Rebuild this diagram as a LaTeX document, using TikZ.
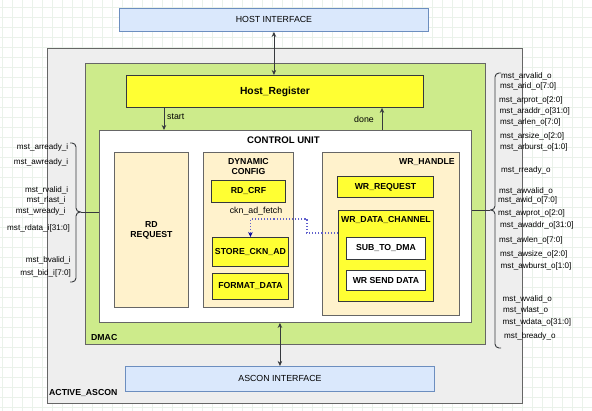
\documentclass[tikz,border=0pt]{standalone}
\usepackage{fontspec}
\setmainfont{Liberation Sans}
\usepackage{tikz}
\usetikzlibrary{arrows.meta,positioning}
\definecolor{gridc}{RGB}{234,242,234}
\definecolor{outerfill}{RGB}{238,238,238}
\definecolor{outerline}{RGB}{102,102,102}
\definecolor{dmacfill}{RGB}{205,235,139}
\definecolor{yel}{RGB}{255,255,51}
\definecolor{beige}{RGB}{255,242,204}
\definecolor{iffill}{RGB}{218,232,252}
\definecolor{ifline}{RGB}{108,142,191}
\definecolor{fetchc}{RGB}{96,96,204}
\definecolor{fetchtip}{RGB}{0,0,153}
\definecolor{darkline}{RGB}{54,57,61}

\begin{document}
\begin{tikzpicture}[x=1pt,y=-1pt,
    blk/.style={draw=darkline,line width=0.9pt,inner sep=0pt,anchor=north west,align=center,
      font=\fontsize{8.7}{10}\selectfont\bfseries},
    ttl/.style={font=\fontsize{8.7}{10}\selectfont\bfseries,inner sep=0pt,align=center},
    sig/.style={font=\fontsize{8.1}{9}\selectfont,inner sep=0pt},
    txt/.style={font=\fontsize{8.8}{10}\selectfont,inner sep=0pt},
    conn/.style={draw=darkline,line width=0.9pt},
    brc/.style={draw=darkline,line width=0.9pt,rounded corners=4pt},
    fetch/.style={draw=fetchc,line width=1.1pt,dotted,-{Stealth[length=5pt,width=4.5pt,color=fetchtip]}},
    >={Stealth[length=5pt,width=4.5pt]}]
  \useasboundingbox (0,0) rectangle (592,411);
  \fill[white] (0,0) rectangle (592,411);
  \foreach \g in {2,12,...,592} \draw[gridc,line width=0.5pt] (\g,0) -- (\g,411);
  \foreach \g in {7,17,...,407} \draw[gridc,line width=0.5pt] (0,\g) -- (592,\g);

  \node[blk,draw=ifline,fill=iffill,font=\fontsize{8.8}{10}\selectfont,minimum width=309,minimum height=23] (hostif) at (119,8) {HOST INTERFACE};
  \node[blk,draw=outerline,fill=outerfill,minimum width=475,minimum height=355] (outer) at (47,48) {};
  \node[blk,draw=outerline,fill=dmacfill,minimum width=400,minimum height=281] (dmac) at (85,63) {};
  \node[blk,fill=yel,font=\fontsize{10.3}{12}\selectfont\bfseries,minimum width=297,minimum height=32] (hostreg) at (126,75) {Host\_Register};
  \node[blk,draw=outerline,fill=white,minimum width=372,minimum height=192] (cu) at (99,130) {};
  \node[blk,draw=ifline,fill=iffill,font=\fontsize{8.8}{10}\selectfont,minimum width=309,minimum height=25] (asconif) at (125,366) {ASCON INTERFACE};

  \node[ttl,anchor=west] (outerlbl) at ([xshift=2pt,yshift=11pt]outer.south west) {ACTIVE\_ASCON};
  \node[ttl,anchor=west] (dmaclbl) at ([xshift=6pt,yshift=7.5pt]dmac.south west) {DMAC};
  \node[ttl,font=\fontsize{9.6}{11}\selectfont\bfseries] (culbl) at ([xshift=-2pt,yshift=-10pt]cu.north) {CONTROL UNIT};

  \node[blk,draw=outerline,fill=beige,minimum width=74,minimum height=155] (rdreq) at (114,152) {RD\\REQUEST};
  \node[blk,draw=outerline,fill=beige,minimum width=90,minimum height=155] (dyncfg) at (203,152) {};
  \node[ttl,anchor=north] (dynlbl) at ([yshift=-6pt]dyncfg.north) {DYNAMIC\\CONFIG};
  \node[blk,fill=yel,minimum width=74,minimum height=22] (rdcrf) at (211,180) {RD\_CRF};
  \node[blk,fill=yel,minimum width=76,minimum height=29] (store) at (212,237) {STORE\_CKN\_AD};
  \node[blk,fill=yel,minimum width=76,minimum height=26] (fmt) at (212,273) {FORMAT\_DATA};
  \node[txt] (fetchlbl) at (256,211) {ckn\_ad\_fetch};

  \node[blk,draw=outerline,fill=beige,minimum width=137,minimum height=163] (wrh) at (322,152) {};
  \node[ttl,anchor=north east] (wrhlbl) at ([xshift=-5pt,yshift=-6pt]wrh.north east) {WR\_HANDLE};
  \node[blk,fill=yel,minimum width=96,minimum height=21] (wrreq) at (337,176) {WR\_REQUEST};
  \node[blk,fill=yel,minimum width=95,minimum height=91] (wrdc) at (338,210) {};
  \node[ttl,anchor=north] (wrdclbl) at ([yshift=-6pt]wrdc.north) {WR\_DATA\_CHANNEL};
  \node[blk,fill=white,minimum width=79,minimum height=22] (sub) at (346,237) {SUB\_TO\_DMA};
  \node[blk,fill=white,minimum width=79,minimum height=20] (wrsend) at (346,270) {WR SEND DATA};

  \draw[fetch] ([yshift=-23pt]wrdc.north west) -- ++(-31,0) |- ([yshift=18pt]store.north) -- (store.north);

  \draw[conn,<->] (hostif.south) -- (hostif.south |- hostreg.north);
  \draw[conn,<->] (asconif.north) -- (asconif.north |- cu.south);
  \draw[conn,->] (hostreg.south -| 164,0) -- (cu.north -| 164,0);
  \draw[conn,->] (cu.north -| 382,0) -- (hostreg.south -| 382,0);
  \node[txt,anchor=west] (startlbl) at (167,117) {start};
  \node[txt,anchor=east] (donelbl) at (374,119) {done};

  \coordinate (lb) at (81,212);
  \coordinate (rb) at (490,210);
  \draw[brc] (70,143) -| (76,212) -- (lb);
  \draw[brc] (70,282) -| (76,212) -- (lb);
  \draw[brc] (501,73) -| (495,210) -- (rb);
  \draw[brc] (501,348) -| (495,210) -- (rb);
  \draw[conn] (lb) -- (cu.west |- lb);
  \draw[conn] (rb) -- (cu.east |- rb);

  \foreach \n/\yy/\xx/\s in {1/147.3/68.5/mst\_arready\_i, 2/162.7/68.5/mst\_awready\_i,
      3/190/68.5/mst\_rvalid\_i, 4/200.7/66/mst\_rlast\_i, 5/211.7/66/mst\_wready\_i,
      6/228.3/70/mst\_rdata\_i[31:0], 7/260/71/mst\_bvalid\_i, 8/273.3/71/mst\_bid\_i[7:0]}
    \node[sig,anchor=east] (in\n) at (\xx,\yy) {\s};

  \foreach \n/\yy/\xx/\s in {1/76/501/mst\_arvalid\_o, 2/86.7/500/mst\_arid\_o[7:0],
      3/100/499/mst\_arprot\_o[2:0], 4/111.7/499.5/mst\_araddr\_o[31:0],
      5/122.7/500/mst\_arlen\_o[7:0], 6/136/500/mst\_arsize\_o[2:0],
      7/147.3/500/mst\_arburst\_o[1:0], 8/170/501/mst\_rready\_o,
      9/191.7/499/mst\_awvalid\_o, 10/200.7/498/mst\_awid\_o[7:0],
      11/213.5/498/mst\_awprot\_o[2:0], 12/225/500/mst\_awaddr\_o[31:0],
      13/240/499/mst\_awlen\_o[7:0], 14/254.5/500/mst\_awsize\_o[2:0],
      15/266/500.5/mst\_awburst\_o[1:0], 16/299.5/502.5/mst\_wvalid\_o,
      17/310/503/mst\_wlast\_o, 18/322.7/502.5/mst\_wdata\_o[31:0],
      19/336.7/504/mst\_bready\_o}
    \node[sig,anchor=west] (out\n) at (\xx,\yy) {\s};
\end{tikzpicture}
\end{document}
